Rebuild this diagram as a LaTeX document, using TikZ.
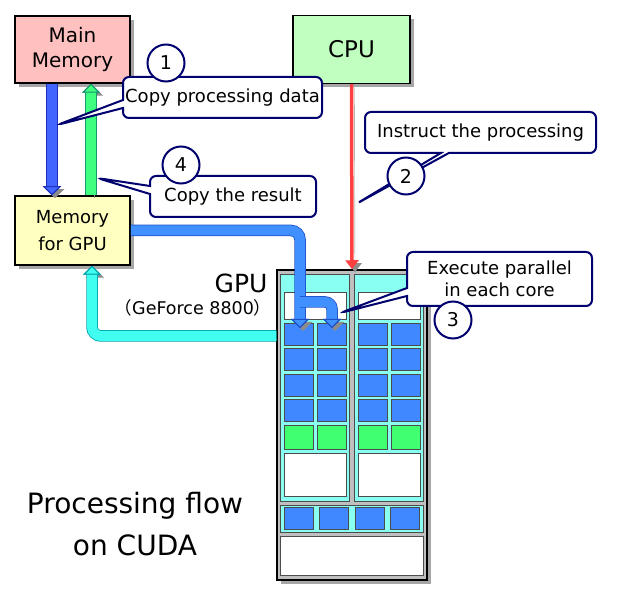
\documentclass[tikz,border=0pt]{standalone}
\usepackage{fontspec}
\setmainfont{DejaVu Sans}
\newfontfamily\cjk{Noto Sans CJK JP}
\usetikzlibrary{arrows.meta, positioning, shapes.callouts, shadows}

\definecolor{mempink}{RGB}{255,192,192}
\definecolor{cpugreen}{RGB}{192,255,192}
\definecolor{gmemyellow}{RGB}{255,255,192}
\definecolor{navy}{RGB}{0,0,110}
\definecolor{copyblue}{RGB}{66,100,255}
\definecolor{copyedge}{RGB}{30,50,190}
\definecolor{resgreen}{RGB}{64,255,128}
\definecolor{resedge}{RGB}{20,150,110}
\definecolor{pathblue}{RGB}{64,144,255}
\definecolor{pathedge}{RGB}{30,80,200}
\definecolor{backcyan}{RGB}{64,255,240}
\definecolor{backedge}{RGB}{0,160,170}
\definecolor{panelcyan}{RGB}{136,255,240}
\definecolor{coreblue}{RGB}{64,136,255}
\definecolor{coregreen}{RGB}{64,255,112}
\definecolor{instred}{RGB}{255,64,64}

\tikzset{
  unitbox/.style={draw=black, line width=1.5pt, inner sep=0pt, align=center,
    drop shadow={shadow xshift=4pt, shadow yshift=-4pt, opacity=0.7}},
  callbox/.style={rectangle callout, draw=navy, fill=white, line width=2pt,
    rounded corners=6pt, callout pointer width=8pt, inner sep=0pt,
    align=center, font=\fontsize{18}{22}\selectfont},
  stepnum/.style={circle, draw=navy, fill=white, line width=2pt,
    minimum size=37pt, inner sep=0pt, font=\fontsize{19}{19}\selectfont},
  flow/.style 2 args={line width=10pt, draw=#1,
    -{Triangle[width=18pt,length=9pt,line width=1pt,fill=#1,color=#2]},
    preaction={draw=black!45, transform canvas={shift={(3pt,-3pt)}},
      -{Triangle[width=18pt,length=9pt]}},
    preaction={draw=#2, line width=11.5pt,
      -{Triangle[width=18pt,length=9pt,line width=1pt,fill=#1,color=#2]}}},
  cellbox/.style={draw=black!70, line width=0.6pt},
}

\begin{document}
\begin{tikzpicture}[x=1pt, y=-1pt]
  \useasboundingbox (0,0) rectangle (633,591);

  % Units
  \node[unitbox, fill=mempink, minimum width=115pt, minimum height=67pt,
    font=\fontsize{20}{25}\selectfont] (mm) at (72.5,49.5) {Main\\Memory};
  \node[unitbox, fill=cpugreen, minimum width=117pt, minimum height=68pt,
    font=\fontsize{23}{25}\selectfont] (cpu) at (351.5,49.5) {CPU};
  \node[unitbox, fill=gmemyellow, minimum width=115pt, minimum height=69pt,
    font=\fontsize{18}{27}\selectfont] (gmem) at (72.5,230.5) {Memory\\for GPU};

  % Copy to / from the memory for GPU
  \draw[flow={copyblue}{copyedge}]
    ([xshift=-20.5pt]mm.south) -- ([xshift=-20.5pt]gmem.north);
  \draw[flow={resgreen}{resedge}]
    ([xshift=18.5pt]gmem.north) -- ([xshift=18.5pt]mm.south);

  % GPU
  \node[unitbox, fill=black!25, minimum width=150pt, minimum height=310pt] (gpu) at (352,425) {};
  \node[anchor=east, font=\fontsize{25}{25}\selectfont] (gpulabel) at (271,283) {GPU};
  \node[anchor=east, font=\fontsize{17.5}{17.5}\selectfont] (gpumodel) at (275,308)
    {{\cjk （}GeForce 8800{\cjk ）}};

  \foreach \px in {280,354} {
    \draw[cellbox, fill=panelcyan] (\px,274) rectangle ++(69,227);
    \draw[cellbox, fill=white] (\px+4,292) rectangle ++(62,27);
    \foreach \y in {323,348,374,399}
      \foreach \cx in {4,37}
        \draw[cellbox, fill=coreblue] (\px+\cx,\y) rectangle ++(29,22);
    \foreach \cx in {4,37}
      \draw[cellbox, fill=coregreen] (\px+\cx,425) rectangle ++(29,24);
    \draw[cellbox, fill=white] (\px+4,453) rectangle ++(62,43);
  }
  \draw[cellbox, fill=panelcyan] (280,505) rectangle (423,532);
  \foreach \cx in {284,319,355,390}
    \draw[cellbox, fill=coreblue] (\cx,507) rectangle ++(29,22);
  \draw[cellbox, fill=white] (280,536) rectangle (423,575);

  % Instruction from the CPU
  \draw[instred, line width=3.5pt, -{Triangle[width=13pt,length=9pt]},
    preaction={draw=black!45, transform canvas={shift={(3pt,-3pt)}}}] (cpu.south) -- (gpu.north);

  % Data into the cores and the result back
  \coordinate (corea) at (300,328);
  \coordinate (coreb) at (332,328);
  \draw[flow={pathblue}{pathedge}, rounded corners=9pt]
    (gmem.east) -- (gmem.east -| corea) -- (corea);
  \draw[flow={pathblue}{pathedge}, rounded corners=7pt]
    (300,302) -- (332,302) -- (coreb);
  \coordinate (backturn) at (92,336);
  \draw[flow={backcyan}{backedge}, rounded corners=9pt]
    (gpu.west |- backturn) -- (backturn) -- ([xshift=19.5pt]gmem.south);

  % Callouts
  \coordinate (tap1) at (57,125);
  \coordinate (tap2) at (356,204);
  \coordinate (tap3) at (340,313);
  \coordinate (tap4) at (97,178);
  \node[callbox, minimum width=199pt, minimum height=41pt, callout absolute pointer={(tap1)}]
    (copydata) at (222.5,97.5) {Copy processing data};
  \node[callbox, minimum width=231pt, minimum height=41pt, callout absolute pointer={(tap2)}]
    (instruct) at (480.5,132.5) {Instruct the processing};
  \node[callbox, minimum width=185pt, minimum height=54pt, callout absolute pointer={(tap3)}]
    (parallel) at (499.5,279) {Execute parallel\\in each core};
  \node[callbox, minimum width=166pt, minimum height=41pt, callout absolute pointer={(tap4)}]
    (copyback) at (233,196.5) {Copy the result};

  \node[stepnum] (n1) at (166,63) {1};
  \node[stepnum] (n2) at (406,176) {2};
  \node[stepnum] (n3) at (453,320) {3};
  \node[stepnum] (n4) at (181,165) {4};

  % Title
  \node[align=center, font=\fontsize{28}{42}\selectfont] (title) at (135,524) {Processing flow\\on CUDA};
\end{tikzpicture}
\end{document}
